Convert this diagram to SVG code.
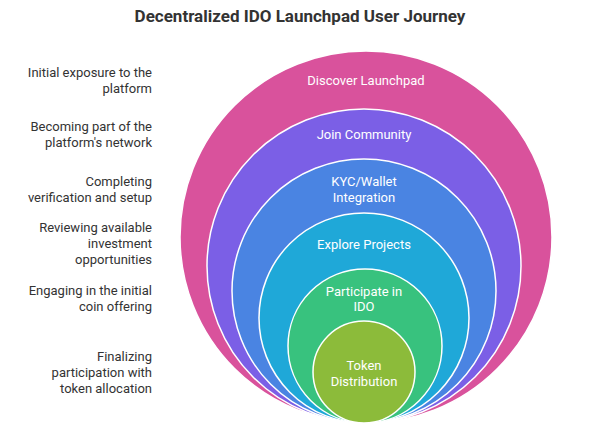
<svg xmlns="http://www.w3.org/2000/svg" width="602" height="429" viewBox="0 0 602 429">
<style>
.c{stroke:#fff;stroke-width:1.5}
.t{font-family:Roboto,"Liberation Sans",sans-serif;font-size:13px;fill:#fff;text-anchor:middle}
.l{font-family:Roboto,"Liberation Sans",sans-serif;font-size:13px;fill:#333;text-anchor:end}
</style>
<rect width="602" height="429" fill="#fff"/>
<text x="300" y="22" style="font-family:Roboto,'Liberation Sans',sans-serif;font-size:17px;font-weight:bold;fill:#333" text-anchor="middle">Decentralized IDO Launchpad User Journey</text>
<g id="n1"><circle class="c" cx="366" cy="237" r="186" fill="#d9529c"/><text class="t" x="366" y="85">Discover Launchpad</text></g>
<g id="n2"><circle class="c" cx="364" cy="266" r="157" fill="#7b5fe6"/><text class="t" x="364" y="139">Join Community</text></g>
<g id="n3"><circle class="c" cx="364" cy="291" r="132" fill="#4a84e2"/><text class="t" x="364" y="186">KYC/Wallet</text><text class="t" x="364" y="202">Integration</text></g>
<g id="n4"><circle class="c" cx="364" cy="318" r="105" fill="#1fa8d8"/><text class="t" x="364" y="249">Explore Projects</text></g>
<g id="n5"><circle class="c" cx="365" cy="346" r="77" fill="#38c27e"/><text class="t" x="364" y="296">Participate in</text><text class="t" x="364" y="311">IDO</text></g>
<g id="n6"><circle class="c" cx="364" cy="372" r="51" fill="#8cbb3a"/><text class="t" x="364" y="370">Token</text><text class="t" x="364" y="386">Distribution</text></g>
<g id="labels">
<text class="l" x="152" y="77">Initial exposure to the</text><text class="l" x="152" y="93">platform</text>
<text class="l" x="152" y="131">Becoming part of the</text><text class="l" x="152" y="147">platform's network</text>
<text class="l" x="152" y="186">Completing</text><text class="l" x="152" y="202">verification and setup</text>
<text class="l" x="152" y="232">Reviewing available</text><text class="l" x="152" y="248">investment</text><text class="l" x="152" y="264">opportunities</text>
<text class="l" x="152" y="295">Engaging in the initial</text><text class="l" x="152" y="311">coin offering</text>
<text class="l" x="152" y="361">Finalizing</text><text class="l" x="152" y="377">participation with</text><text class="l" x="152" y="393">token allocation</text>
</g>
<g id="connectors"/>
</svg>
